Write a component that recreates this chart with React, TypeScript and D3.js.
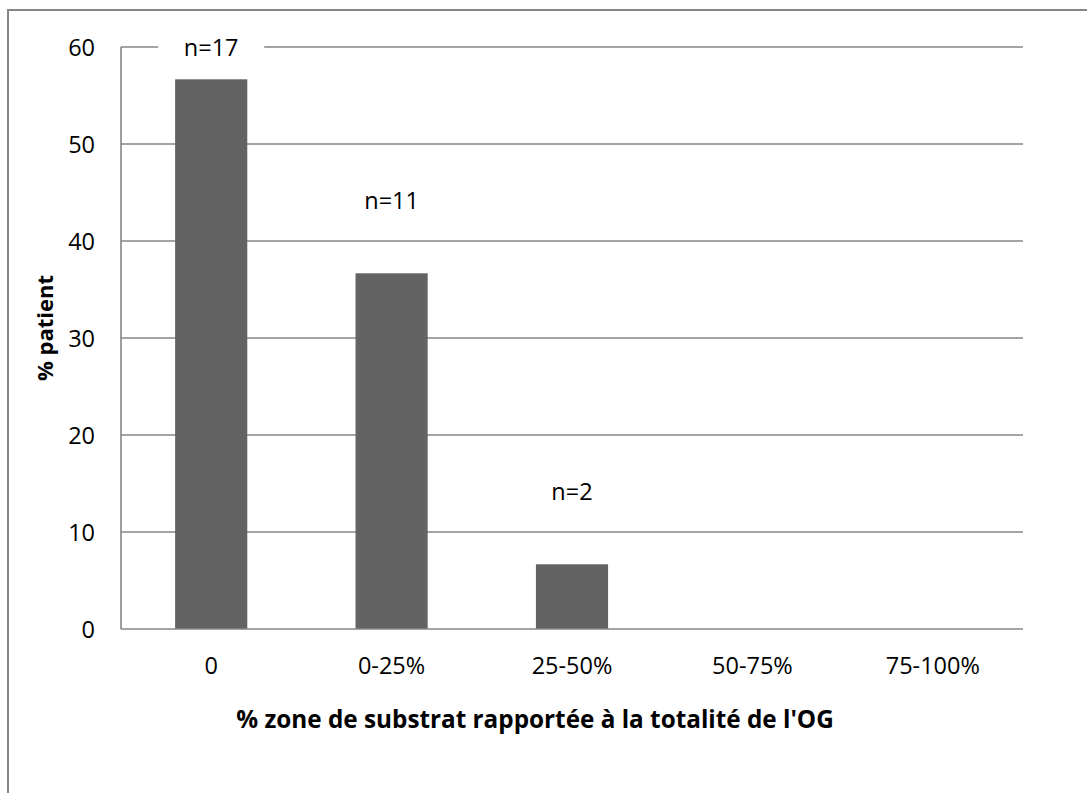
import React from "react";
import * as d3 from "d3";

const categories = ["0", "0-25%", "25-50%", "50-75%", "75-100%"];
const values = [56.67, 36.67, 6.67, 0, 0];
const labels = ["n=17", "n=11", "n=2", "", ""];
const labelLevels = [60, 44.2, 14.2, 0, 0];
const yTicks = [0, 10, 20, 30, 40, 50, 60];

const W = 1087;
const H = 793;
const M = { left: 121, right: 1023, top: 47, bottom: 629 };
const FONT = "'Open Sans', sans-serif";

export default function App() {
  const x = d3.scaleBand<string>().domain(categories).range([M.left, M.right]).padding(0);
  const y = d3.scaleLinear().domain([0, 60]).range([M.bottom, M.top]);
  const bw = x.bandwidth() * 0.4;
  const grid = "#868686";
  return (
    <svg
      width={W}
      height={H}
      style={{ position: "absolute", left: 0, top: 0, background: "#fff" }}
    >
      <rect x={8} y={10} width={1200} height={900} fill="#fff" stroke={grid} strokeWidth={2} />
      {yTicks.map((t) => (
        <g key={t}>
          {t > 0 && (
            <line x1={M.left} x2={M.right} y1={y(t)} y2={y(t)} stroke={grid} strokeWidth={1.6} />
          )}
          <text
            x={95}
            y={y(t)}
            textAnchor="end"
            dominantBaseline="central"
            fontFamily={FONT}
            fontSize={23.5}
            fill="#000"
          >
            {t}
          </text>
        </g>
      ))}
      <line x1={M.left} x2={M.left} y1={y(60)} y2={y(0)} stroke={grid} strokeWidth={1.6} />
      {categories.map((c, i) => (
        <g key={c}>
          {values[i] > 0 && (
            <rect
              x={(x(c) as number) + (x.bandwidth() - bw) / 2}
              y={y(values[i])}
              width={bw}
              height={y(0) - y(values[i])}
              fill="#636363"
            />
          )}
          <text
            x={(x(c) as number) + x.bandwidth() / 2}
            y={665}
            textAnchor="middle"
            dominantBaseline="central"
            fontFamily={FONT}
            fontSize={23.5}
          >
            {c}
          </text>
        </g>
      ))}
      <line x1={M.left} x2={M.right} y1={y(0)} y2={y(0)} stroke={grid} strokeWidth={1.6} />
      {categories.map((c, i) =>
        labels[i] ? (
          <g key={"l" + c}>
            <rect
              x={(x(c) as number) + x.bandwidth() / 2 - 53}
              y={y(labelLevels[i]) - 15}
              width={106}
              height={30}
              fill="#fff"
            />
            <text
              x={(x(c) as number) + x.bandwidth() / 2}
              y={y(labelLevels[i])}
              textAnchor="middle"
              dominantBaseline="central"
              fontFamily={FONT}
              fontSize={23.5}
            >
              {labels[i]}
            </text>
          </g>
        ) : null
      )}
      <text
        x={535}
        y={718}
        textAnchor="middle"
        dominantBaseline="central"
        fontFamily={FONT}
        fontWeight="bold"
        fontSize={24.3}
      >
        % zone de substrat rapportée à la totalité de l'OG
      </text>
      <text
        transform={`translate(44,328) rotate(-90)`}
        textAnchor="middle"
        dominantBaseline="central"
        fontFamily={FONT}
        fontWeight="bold"
        fontSize={22}
      >
        % patient
      </text>
    </svg>
  );
}
